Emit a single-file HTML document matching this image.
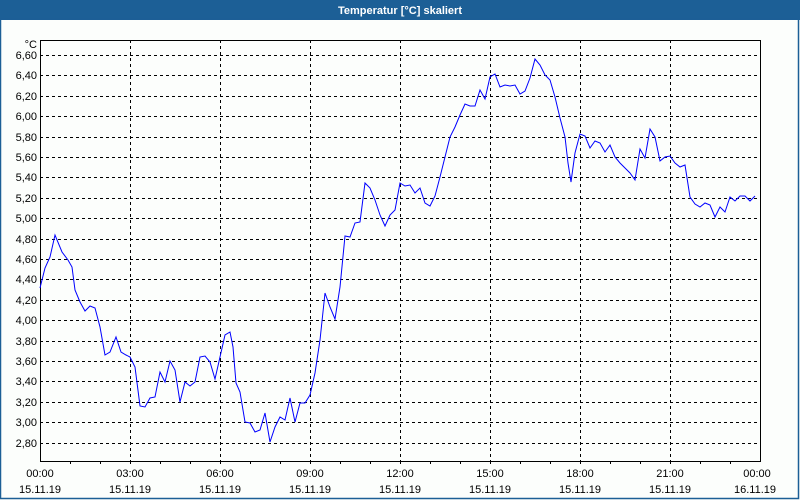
<!DOCTYPE html>
<html><head><meta charset="utf-8"><style>
html,body{margin:0;padding:0;background:#fcfefc;}
svg{display:block}
text{font-family:"Liberation Sans",sans-serif;font-size:11px;fill:#000}
</style></head><body>
<svg width="800" height="500" xmlns="http://www.w3.org/2000/svg">
<rect x="0" y="0" width="800" height="500" fill="#fcfefc"/>
<rect x="0" y="0" width="800" height="20" fill="#1c5f96"/>
<rect x="0.5" y="19" width="798" height="479.5" fill="none" stroke="#1c5f96" stroke-width="1.5"/>
<text x="400" y="14" text-anchor="middle" style="fill:#fff;font-weight:bold;font-size:11px">Temperatur [°C] skaliert</text>
<g stroke="#000" stroke-width="1" stroke-dasharray="3,3" shape-rendering="crispEdges">
<line x1="40" x2="760" y1="55.5" y2="55.5"/><line x1="40" x2="760" y1="75.5" y2="75.5"/><line x1="40" x2="760" y1="96.5" y2="96.5"/><line x1="40" x2="760" y1="116.5" y2="116.5"/><line x1="40" x2="760" y1="137.5" y2="137.5"/><line x1="40" x2="760" y1="157.5" y2="157.5"/><line x1="40" x2="760" y1="177.5" y2="177.5"/><line x1="40" x2="760" y1="198.5" y2="198.5"/><line x1="40" x2="760" y1="218.5" y2="218.5"/><line x1="40" x2="760" y1="239.5" y2="239.5"/><line x1="40" x2="760" y1="259.5" y2="259.5"/><line x1="40" x2="760" y1="279.5" y2="279.5"/><line x1="40" x2="760" y1="300.5" y2="300.5"/><line x1="40" x2="760" y1="320.5" y2="320.5"/><line x1="40" x2="760" y1="341.5" y2="341.5"/><line x1="40" x2="760" y1="361.5" y2="361.5"/><line x1="40" x2="760" y1="381.5" y2="381.5"/><line x1="40" x2="760" y1="402.5" y2="402.5"/><line x1="40" x2="760" y1="422.5" y2="422.5"/><line x1="40" x2="760" y1="443.5" y2="443.5"/>
<line x1="130.5" x2="130.5" y1="40" y2="461"/><line x1="220.5" x2="220.5" y1="40" y2="461"/><line x1="310.5" x2="310.5" y1="40" y2="461"/><line x1="400.5" x2="400.5" y1="40" y2="461"/><line x1="490.5" x2="490.5" y1="40" y2="461"/><line x1="580.5" x2="580.5" y1="40" y2="461"/><line x1="670.5" x2="670.5" y1="40" y2="461"/>
</g>
<rect x="40.5" y="40.5" width="720" height="421" fill="none" stroke="#000" stroke-width="1" shape-rendering="crispEdges"/>
<g stroke="#000" shape-rendering="crispEdges">
<line x1="70.5" x2="70.5" y1="461" y2="464"/><line x1="100.5" x2="100.5" y1="461" y2="464"/><line x1="130.5" x2="130.5" y1="461" y2="464"/><line x1="160.5" x2="160.5" y1="461" y2="464"/><line x1="190.5" x2="190.5" y1="461" y2="464"/><line x1="220.5" x2="220.5" y1="461" y2="464"/><line x1="250.5" x2="250.5" y1="461" y2="464"/><line x1="280.5" x2="280.5" y1="461" y2="464"/><line x1="310.5" x2="310.5" y1="461" y2="464"/><line x1="340.5" x2="340.5" y1="461" y2="464"/><line x1="370.5" x2="370.5" y1="461" y2="464"/><line x1="400.5" x2="400.5" y1="461" y2="464"/><line x1="430.5" x2="430.5" y1="461" y2="464"/><line x1="460.5" x2="460.5" y1="461" y2="464"/><line x1="490.5" x2="490.5" y1="461" y2="464"/><line x1="520.5" x2="520.5" y1="461" y2="464"/><line x1="550.5" x2="550.5" y1="461" y2="464"/><line x1="580.5" x2="580.5" y1="461" y2="464"/><line x1="610.5" x2="610.5" y1="461" y2="464"/><line x1="640.5" x2="640.5" y1="461" y2="464"/><line x1="670.5" x2="670.5" y1="461" y2="464"/><line x1="700.5" x2="700.5" y1="461" y2="464"/><line x1="730.5" x2="730.5" y1="461" y2="464"/>
</g>
<g text-anchor="end">
<text x="37" y="48">°C</text>
<text x="37" y="59">6,60</text><text x="37" y="79">6,40</text><text x="37" y="100">6,20</text><text x="37" y="120">6,00</text><text x="37" y="141">5,80</text><text x="37" y="161">5,60</text><text x="37" y="181">5,40</text><text x="37" y="202">5,20</text><text x="37" y="222">5,00</text><text x="37" y="243">4,80</text><text x="37" y="263">4,60</text><text x="37" y="283">4,40</text><text x="37" y="304">4,20</text><text x="37" y="324">4,00</text><text x="37" y="345">3,80</text><text x="37" y="365">3,60</text><text x="37" y="385">3,40</text><text x="37" y="406">3,20</text><text x="37" y="426">3,00</text><text x="37" y="447">2,80</text>
</g>
<g text-anchor="middle">
<text x="40" y="477">00:00</text><text x="130" y="477">03:00</text><text x="220" y="477">06:00</text><text x="310" y="477">09:00</text><text x="400" y="477">12:00</text><text x="490" y="477">15:00</text><text x="580" y="477">18:00</text><text x="670" y="477">21:00</text><text x="757" y="477">00:00</text>
<text x="40" y="493">15.11.19</text><text x="130" y="493">15.11.19</text><text x="220" y="493">15.11.19</text><text x="310" y="493">15.11.19</text><text x="400" y="493">15.11.19</text><text x="490" y="493">15.11.19</text><text x="580" y="493">15.11.19</text><text x="670" y="493">15.11.19</text><text x="755" y="493">16.11.19</text>
</g>
<polyline fill="none" stroke="#0000ff" stroke-width="1" points="40,288 45,268 50,257 55,235 62,252 68,260 72,267 75,290 80,302 85,311 90,306 95,308 100,327 105,355 110,352 116,337 121,352 126,355 130,357 135,367 140,406 145,407 150,398 155,397 160,372 165,382 170,361 175,370 180,402 185,382 190,386 195,382 200,357 205,356 210,362 215,379 220,357 225,335 230,332 233,347 236,383 240,392 245,422 250,423 255,432 260,430 265,413 270,442 275,427 280,417 285,420 290,398 295,422 300,403 305,403 310,395 315,373 320,340 325,293 330,307 335,319 340,287 345,236 350,237 355,223 360,222 365,183 370,188 375,200 380,215 385,226 390,215 395,210 400,183 405,186 410,185 415,193 420,188 425,203 430,206 435,196 440,177 445,157 450,137 455,127 460,115 465,104 470,106 475,106 480,90 485,99 490,77 495,74 500,87 505,85 510,86 515,85 520,94 525,91 530,78 535,59 540,65 545,75 550,80 555,97 560,118 565,137 568,163 571,182 575,153 580,134 585,136 590,148 595,141 600,143 605,152 610,145 615,157 620,163 625,168 630,173 635,180 640,149 645,158 650,129 655,137 660,161 665,157 670,156 675,163 680,167 685,165 690,197 695,204 700,207 705,203 710,205 715,217 720,207 725,212 730,197 735,201 740,196 745,196 750,201 755,196"/>
</svg>
</body></html>
